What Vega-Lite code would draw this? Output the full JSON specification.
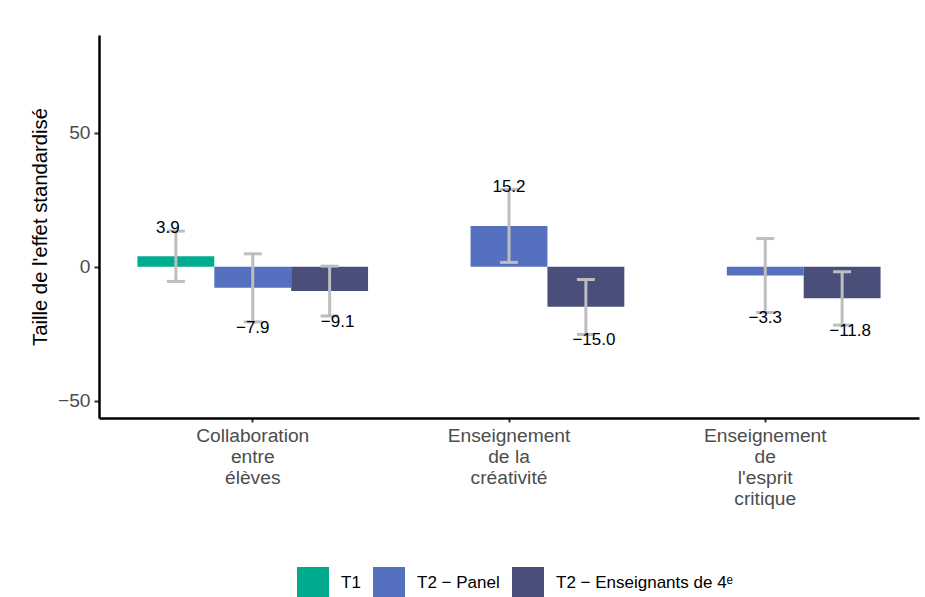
{
  "$schema": "https://vega.github.io/schema/vega-lite/v6.json",
  "width": 820,
  "height": 383,
  "autosize": {"type": "none"},
  "padding": {"left": 99, "top": 35, "right": 6, "bottom": 179},
  "background": "white",
  "config": {
    "font": "Liberation Sans, Arial, DejaVu Sans, sans-serif",
    "view": {"stroke": null},
    "axis": {"grid": false}
  },
  "data": {
    "values": [
      {"cat": "Collaboration\nentre\nélèves", "series": "T1", "value": 3.9, "lo": -5.5, "hi": 13.3},
      {"cat": "Collaboration\nentre\nélèves", "series": "T2 − Panel", "value": -7.9, "lo": -20.6, "hi": 4.8},
      {"cat": "Collaboration\nentre\nélèves", "series": "T2 − Enseignants de 4ᵉ", "value": -9.1, "lo": -18.4, "hi": 0.2},
      {"cat": "Enseignement\nde la\ncréativité", "series": "T2 − Panel", "value": 15.2, "lo": 1.6, "hi": 28.8},
      {"cat": "Enseignement\nde la\ncréativité", "series": "T2 − Enseignants de 4ᵉ", "value": -15.0, "lo": -25.3, "hi": -4.8},
      {"cat": "Enseignement\nde\nl'esprit\ncritique", "series": "T2 − Panel", "value": -3.3, "lo": -17.1, "hi": 10.5},
      {"cat": "Enseignement\nde\nl'esprit\ncritique", "series": "T2 − Enseignants de 4ᵉ", "value": -11.8, "lo": -21.8, "hi": -1.9}
    ]
  },
  "encoding": {
    "x": {
      "field": "cat", "type": "nominal", "sort": null,
      "scale": {"paddingInner": 0.1, "paddingOuter": 0.15},
      "axis": {
        "title": null, "labelAngle": 0,
        "labelExpr": "split(datum.label, '\\n')",
        "labelFontSize": 19.2, "labelColor": "#4D4D4D", "labelLineHeight": 21,
        "labelPadding": 4, "tickSize": 4, "tickColor": "#333333", "tickWidth": 2,
        "domainColor": "black", "domainWidth": 2.5
      }
    },
    "xOffset": {
      "field": "series", "type": "nominal",
      "scale": {"domain": ["T1", "T2 − Panel", "T2 − Enseignants de 4ᵉ"], "paddingInner": 0, "paddingOuter": 0}
    }
  },
  "layer": [
    {
      "mark": {"type": "bar", "strokeWidth": 0},
      "encoding": {
        "y": {
          "field": "value", "type": "quantitative",
          "scale": {"domain": [-56.5, 86.5], "nice": false, "zero": false},
          "axis": {
            "title": "Taille de l'effet standardisé", "values": [-50, 0, 50],
            "titleFontSize": 20.3, "titleFontWeight": "normal", "titleColor": "black", "titlePadding": 7,
            "labelFontSize": 19.2, "labelColor": "#4D4D4D", "labelPadding": 4,
            "tickSize": 5, "tickColor": "#333333", "tickWidth": 2,
            "domainColor": "black", "domainWidth": 2.5
          }
        },
        "color": {
          "field": "series", "type": "nominal",
          "scale": {"domain": ["T1", "T2 − Panel", "T2 − Enseignants de 4ᵉ"], "range": ["#00AB8E", "#5470BE", "#4A4E7A"]},
          "legend": {
            "title": null, "orient": "none", "direction": "horizontal",
            "legendX": 198, "legendY": 532, "padding": 0,
            "symbolType": "square", "symbolSize": 1024, "symbolStrokeWidth": 0, "symbolOpacity": 1,
            "labelFontSize": 17, "labelColor": "black", "labelOffset": 12, "columnPadding": 12,
            "labelLimit": 0
          }
        }
      }
    },
    {
      "mark": {"type": "rule", "color": "#BEBEBE", "strokeWidth": 3},
      "encoding": {
        "y": {"field": "lo", "type": "quantitative"},
        "y2": {"field": "hi"}
      }
    },
    {
      "mark": {"type": "tick", "color": "#BEBEBE", "thickness": 3, "size": 18, "opacity": 1},
      "encoding": {"y": {"field": "lo", "type": "quantitative"}}
    },
    {
      "mark": {"type": "tick", "color": "#BEBEBE", "thickness": 3, "size": 18, "opacity": 1},
      "encoding": {"y": {"field": "hi", "type": "quantitative"}}
    },
    {
      "transform": [{"filter": "datum.value > 0 && datum.series == 'T1'"}],
      "mark": {"type": "text", "fontSize": 17, "color": "black", "baseline": "alphabetic", "dy": 2, "dx": -8},
      "encoding": {"y": {"field": "hi", "type": "quantitative"}, "text": {"field": "value", "type": "quantitative", "format": ".1f"}}
    },
    {
      "transform": [{"filter": "datum.value > 0 && datum.series != 'T1'"}],
      "mark": {"type": "text", "fontSize": 17, "color": "black", "baseline": "alphabetic", "dy": 2},
      "encoding": {"y": {"field": "hi", "type": "quantitative"}, "text": {"field": "value", "type": "quantitative", "format": ".1f"}}
    },
    {
      "transform": [{"filter": "datum.value < 0 && datum.series == 'T2 − Panel'"}],
      "mark": {"type": "text", "fontSize": 17, "color": "black", "baseline": "top", "dy": -2},
      "encoding": {"y": {"field": "lo", "type": "quantitative"}, "text": {"field": "value", "type": "quantitative", "format": ".1f"}}
    },
    {
      "transform": [{"filter": "datum.value < 0 && datum.series != 'T2 − Panel'"}],
      "mark": {"type": "text", "fontSize": 17, "color": "black", "baseline": "top", "dy": -2, "dx": 8},
      "encoding": {"y": {"field": "lo", "type": "quantitative"}, "text": {"field": "value", "type": "quantitative", "format": ".1f"}}
    }
  ]
}
